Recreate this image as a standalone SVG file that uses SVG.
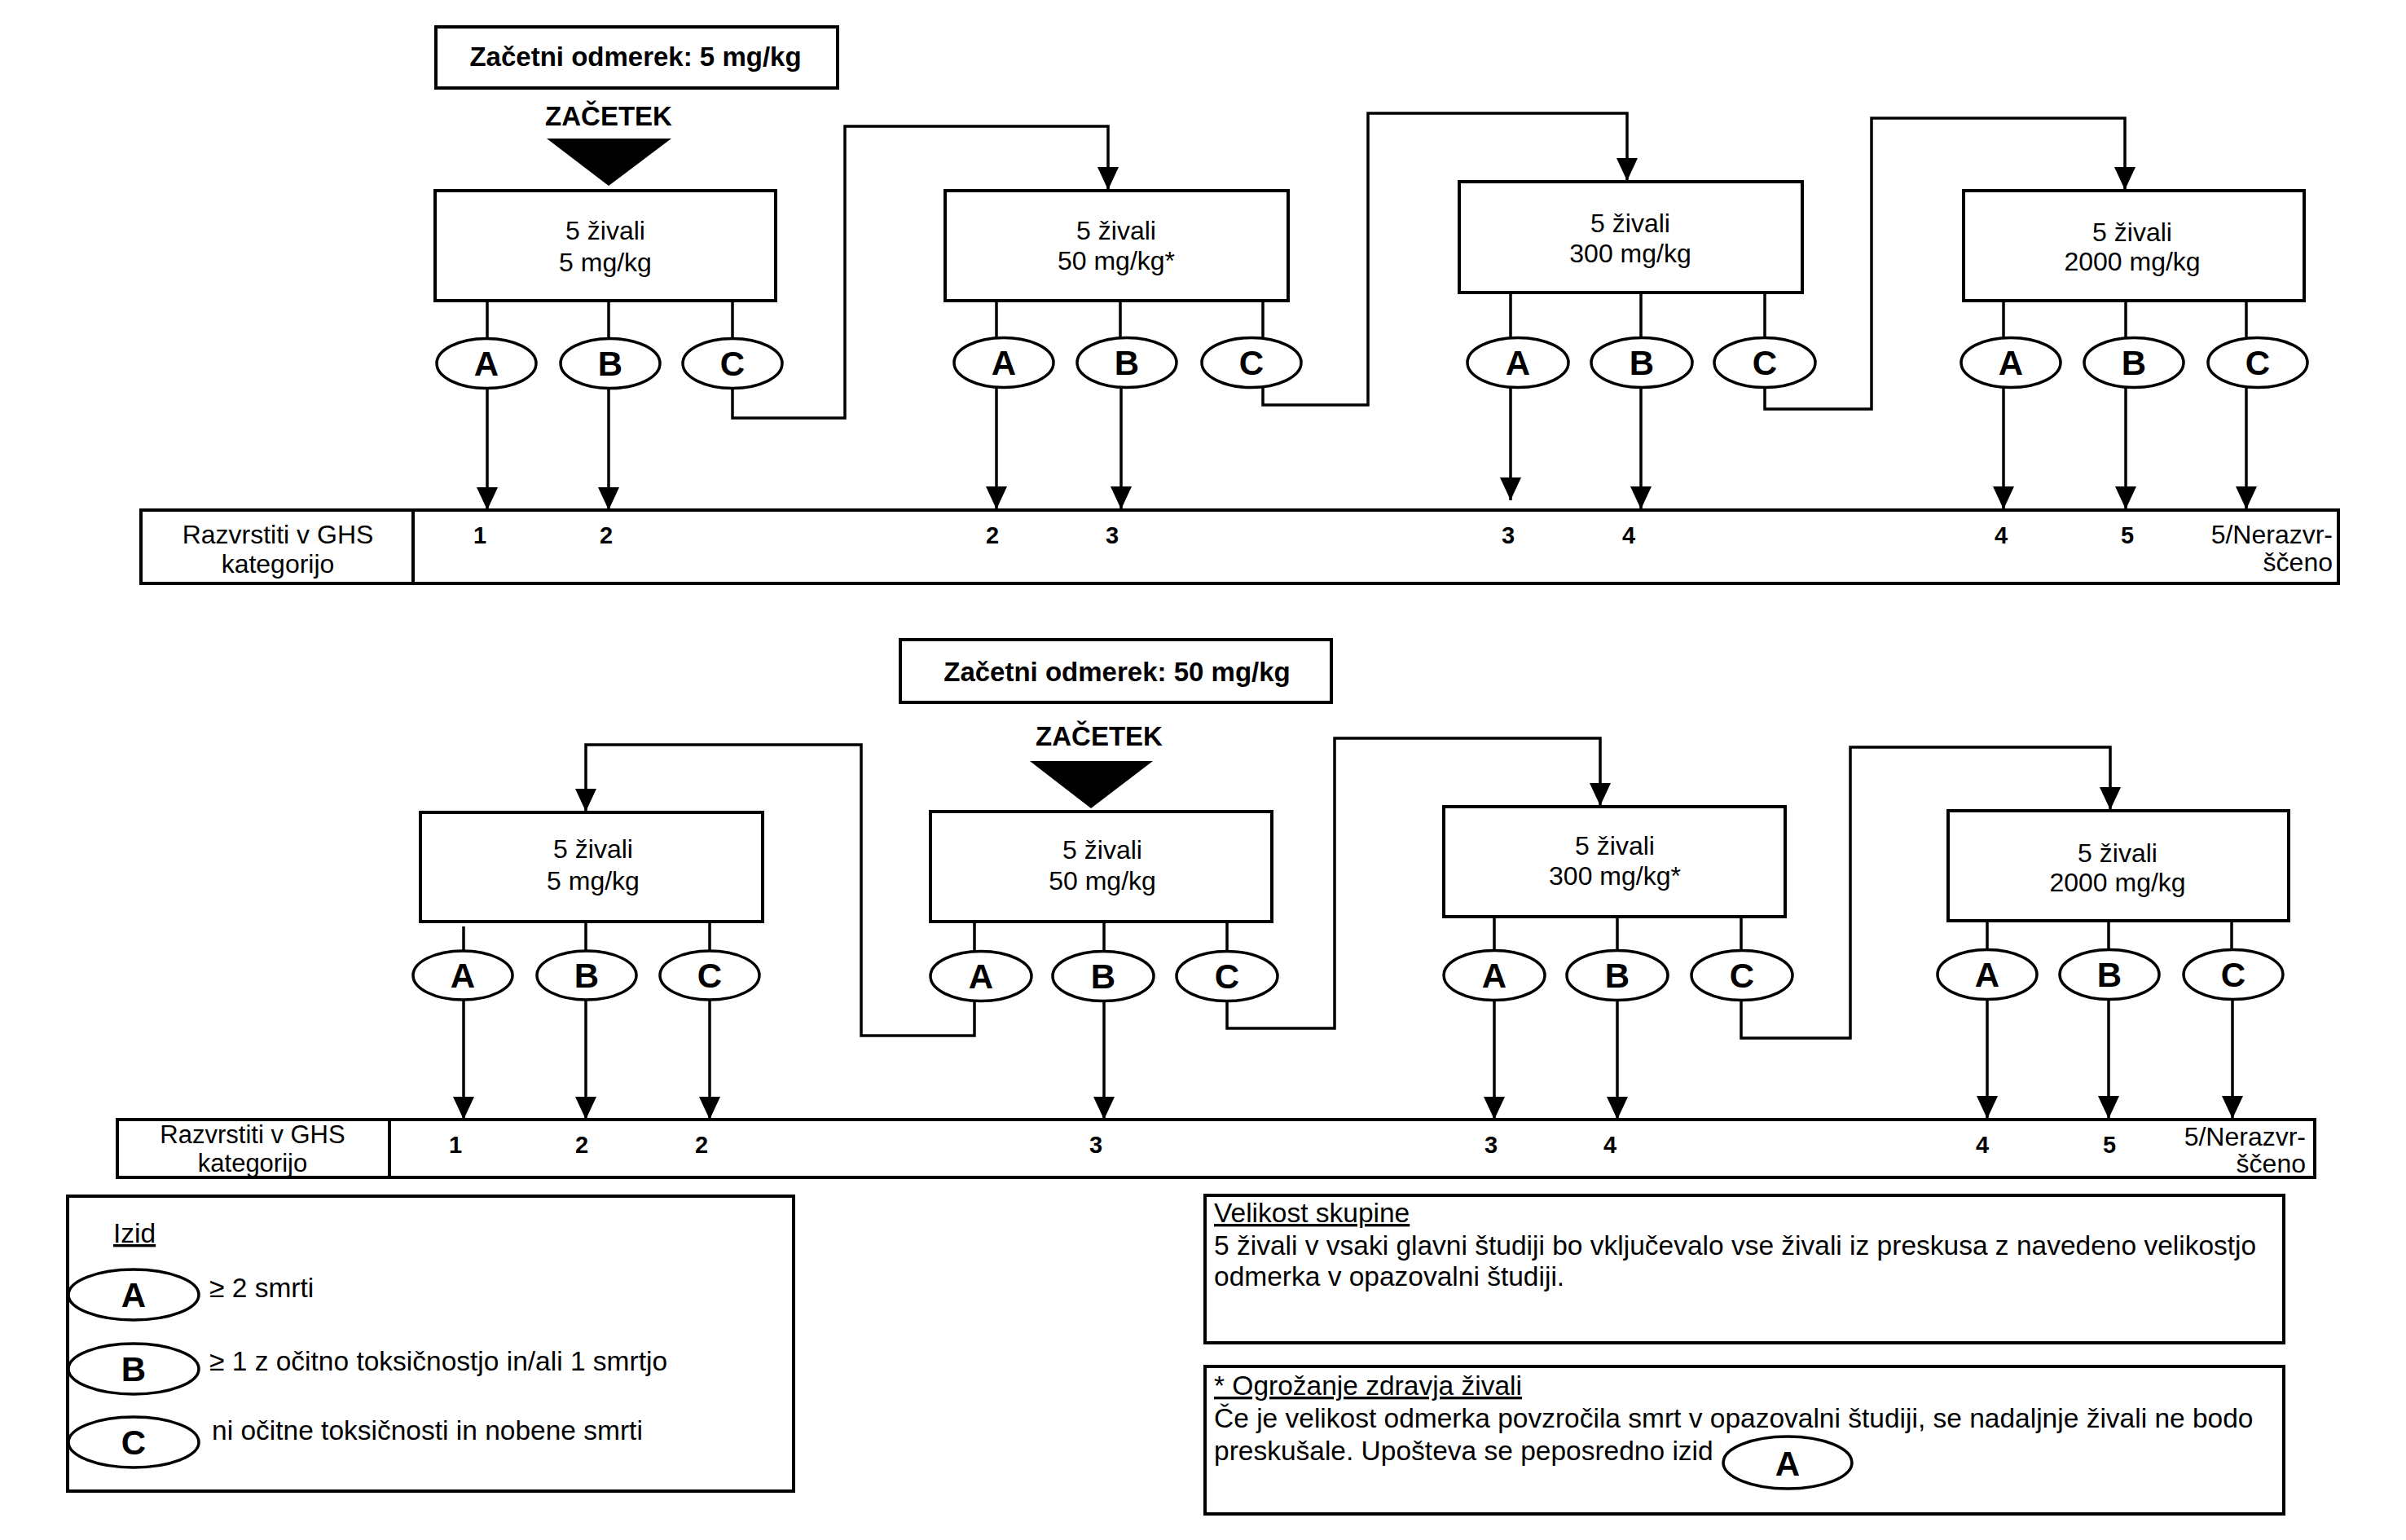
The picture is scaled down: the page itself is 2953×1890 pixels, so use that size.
<svg xmlns="http://www.w3.org/2000/svg" width="2953" height="1890" viewBox="0 0 2953 1890">
<defs>
<style>
.box{fill:#fff;stroke:#000;stroke-width:4}
.ell{fill:#fff;stroke:#000;stroke-width:3.5}
.ln{fill:none;stroke:#000;stroke-width:3.5}
text{font-family:"Liberation Sans",Arial,Helvetica,sans-serif;fill:#000}
.t{font-size:32px}
.n{font-size:33.5px}
.h{font-size:33px;font-weight:bold;text-anchor:middle}
.c{text-anchor:middle}
.e{text-anchor:end}
.lt{font-size:42px;font-weight:bold;text-anchor:middle}
.num{font-size:29px;font-weight:bold;text-anchor:middle}
.u{text-decoration:underline}
</style>
<marker id="ah" markerUnits="userSpaceOnUse" markerWidth="28" markerHeight="26" refX="28" refY="13" orient="auto">
<path d="M0,0 L28,13 L0,26 z" fill="#000"/>
</marker>
</defs>
<rect width="2953" height="1890" fill="#fff"/>

<!-- ===== TOP SECTION ===== -->
<g id="title1">
<rect class="box" x="535" y="33" width="493" height="75"/>
<text class="h" x="780" y="81">Začetni odmerek: 5 mg/kg</text>
</g>
<g id="start1">
<text class="h" x="747" y="154">ZAČETEK</text>
<polygon points="671,170 824,170 747,228" fill="#000"/>
</g>

<g id="t1">
<rect class="box" x="534" y="234" width="418" height="135"/>
<text class="t c" x="743" y="294">5 živali</text>
<text class="t c" x="743" y="333">5 mg/kg</text>
</g>
<g id="t1A"><ellipse class="ell" cx="597" cy="446" rx="61" ry="30.5"/><text class="lt" x="597" y="461">A</text></g>
<g id="t1B"><ellipse class="ell" cx="749" cy="446" rx="61" ry="30.5"/><text class="lt" x="749" y="461">B</text></g>
<g id="t1C"><ellipse class="ell" cx="899" cy="446" rx="61" ry="30.5"/><text class="lt" x="899" y="461">C</text></g>

<g id="t2">
<rect class="box" x="1160" y="234" width="421" height="135"/>
<text class="t c" x="1370" y="294">5 živali</text>
<text class="t c" x="1370" y="331">50 mg/kg*</text>
</g>
<g id="t2A"><ellipse class="ell" cx="1232" cy="445" rx="61" ry="30.5"/><text class="lt" x="1232" y="460">A</text></g>
<g id="t2B"><ellipse class="ell" cx="1383" cy="445" rx="61" ry="30.5"/><text class="lt" x="1383" y="460">B</text></g>
<g id="t2C"><ellipse class="ell" cx="1536" cy="445" rx="61" ry="30.5"/><text class="lt" x="1536" y="460">C</text></g>

<g id="t3">
<rect class="box" x="1791" y="223" width="421" height="136"/>
<text class="t c" x="2001" y="285">5 živali</text>
<text class="t c" x="2001" y="322">300 mg/kg</text>
</g>
<g id="t3A"><ellipse class="ell" cx="1863" cy="445" rx="62" ry="30.5"/><text class="lt" x="1863" y="460">A</text></g>
<g id="t3B"><ellipse class="ell" cx="2015" cy="445" rx="62" ry="30.5"/><text class="lt" x="2015" y="460">B</text></g>
<g id="t3C"><ellipse class="ell" cx="2166" cy="445" rx="62" ry="30.5"/><text class="lt" x="2166" y="460">C</text></g>

<g id="t4">
<rect class="box" x="2410" y="234" width="418" height="135"/>
<text class="t c" x="2617" y="296">5 živali</text>
<text class="t c" x="2617" y="332">2000 mg/kg</text>
</g>
<g id="t4A"><ellipse class="ell" cx="2468" cy="445" rx="61" ry="30.5"/><text class="lt" x="2468" y="460">A</text></g>
<g id="t4B"><ellipse class="ell" cx="2619" cy="445" rx="61" ry="30.5"/><text class="lt" x="2619" y="460">B</text></g>
<g id="t4C"><ellipse class="ell" cx="2771" cy="445" rx="61" ry="30.5"/><text class="lt" x="2771" y="460">C</text></g>

<g id="table1">
<rect class="box" x="173" y="626" width="2697" height="90"/>
<line class="ln" x1="507" y1="626" x2="507" y2="716" style="stroke-width:4"/>
<text class="t c" x="341" y="667">Razvrstiti v GHS</text>
<text class="t c" x="341" y="703">kategorijo</text>
<text class="num" x="589" y="667">1</text>
<text class="num" x="744" y="667">2</text>
<text class="num" x="1218" y="667">2</text>
<text class="num" x="1365" y="667">3</text>
<text class="num" x="1851" y="667">3</text>
<text class="num" x="1999" y="667">4</text>
<text class="num" x="2456" y="667">4</text>
<text class="num" x="2611" y="667">5</text>
<text class="t e" x="2863" y="667">5/Nerazvr-</text>
<text class="t e" x="2863" y="701">ščeno</text>
</g>

<!-- ===== BOTTOM SECTION ===== -->
<g id="title2">
<rect class="box" x="1105" y="785" width="529" height="77"/>
<text class="h" x="1371" y="836">Začetni odmerek: 50 mg/kg</text>
</g>
<g id="start2">
<text class="h" x="1349" y="915">ZAČETEK</text>
<polygon points="1264,934 1415,934 1339,992" fill="#000"/>
</g>

<g id="b1">
<rect class="box" x="516" y="997" width="420" height="134"/>
<text class="t c" x="728" y="1053">5 živali</text>
<text class="t c" x="728" y="1092">5 mg/kg</text>
</g>
<g id="b1A"><ellipse class="ell" cx="568" cy="1197" rx="61" ry="30"/><text class="lt" x="568" y="1212">A</text></g>
<g id="b1B"><ellipse class="ell" cx="720" cy="1197" rx="61" ry="30"/><text class="lt" x="720" y="1212">B</text></g>
<g id="b1C"><ellipse class="ell" cx="871" cy="1197" rx="61" ry="30"/><text class="lt" x="871" y="1212">C</text></g>

<g id="b2">
<rect class="box" x="1142" y="996" width="419" height="135"/>
<text class="t c" x="1353" y="1054">5 živali</text>
<text class="t c" x="1353" y="1092">50 mg/kg</text>
</g>
<g id="b2A"><ellipse class="ell" cx="1204" cy="1198" rx="62" ry="30.5"/><text class="lt" x="1204" y="1213">A</text></g>
<g id="b2B"><ellipse class="ell" cx="1354" cy="1198" rx="62" ry="30.5"/><text class="lt" x="1354" y="1213">B</text></g>
<g id="b2C"><ellipse class="ell" cx="1506" cy="1198" rx="62" ry="30.5"/><text class="lt" x="1506" y="1213">C</text></g>

<g id="b3">
<rect class="box" x="1772" y="990" width="419" height="135"/>
<text class="t c" x="1982" y="1049">5 živali</text>
<text class="t c" x="1982" y="1086">300 mg/kg*</text>
</g>
<g id="b3A"><ellipse class="ell" cx="1834" cy="1197" rx="62" ry="30.5"/><text class="lt" x="1834" y="1212">A</text></g>
<g id="b3B"><ellipse class="ell" cx="1985" cy="1197" rx="62" ry="30.5"/><text class="lt" x="1985" y="1212">B</text></g>
<g id="b3C"><ellipse class="ell" cx="2138" cy="1197" rx="62" ry="30.5"/><text class="lt" x="2138" y="1212">C</text></g>

<g id="b4">
<rect class="box" x="2391" y="995" width="418" height="135"/>
<text class="t c" x="2599" y="1058">5 živali</text>
<text class="t c" x="2599" y="1094">2000 mg/kg</text>
</g>
<g id="b4A"><ellipse class="ell" cx="2439" cy="1196" rx="61" ry="30.5"/><text class="lt" x="2439" y="1211">A</text></g>
<g id="b4B"><ellipse class="ell" cx="2589" cy="1196" rx="61" ry="30.5"/><text class="lt" x="2589" y="1211">B</text></g>
<g id="b4C"><ellipse class="ell" cx="2741" cy="1196" rx="61" ry="30.5"/><text class="lt" x="2741" y="1211">C</text></g>

<g id="table2">
<rect class="box" x="144" y="1374" width="2697" height="71"/>
<line class="ln" x1="478" y1="1374" x2="478" y2="1445" style="stroke-width:4"/>
<text class="c" style="font-size:31px" x="310" y="1403">Razvrstiti v GHS</text>
<text class="c" style="font-size:31px" x="310" y="1438">kategorijo</text>
<text class="num" x="559" y="1415">1</text>
<text class="num" x="714" y="1415">2</text>
<text class="num" x="861" y="1415">2</text>
<text class="num" x="1345" y="1415">3</text>
<text class="num" x="1830" y="1415">3</text>
<text class="num" x="1976" y="1415">4</text>
<text class="num" x="2433" y="1415">4</text>
<text class="num" x="2589" y="1415">5</text>
<text class="t e" x="2830" y="1406">5/Nerazvr-</text>
<text class="t e" x="2830" y="1439">ščeno</text>
</g>

<!-- ===== LEGEND ===== -->
<g id="legend">
<rect class="box" x="83" y="1468" width="891" height="362"/>
<text class="n u" x="139" y="1525">Izid</text>
<ellipse class="ell" cx="164" cy="1589" rx="80" ry="31"/><text class="lt" x="164" y="1604">A</text>
<text class="n" x="257" y="1592">≥ 2 smrti</text>
<ellipse class="ell" cx="164" cy="1680" rx="80" ry="31"/><text class="lt" x="164" y="1695">B</text>
<text class="n" x="257" y="1682">≥ 1 z očitno toksičnostjo in/ali 1 smrtjo</text>
<ellipse class="ell" cx="164" cy="1770" rx="80" ry="31"/><text class="lt" x="164" y="1785">C</text>
<text class="n" x="260" y="1767">ni očitne toksičnosti in nobene smrti</text>
</g>

<g id="note-size">
<rect class="box" x="1479" y="1467" width="1324" height="181"/>
<text class="n u" x="1490" y="1500">Velikost skupine</text>
<text class="n" x="1490" y="1540">5 živali v vsaki glavni študiji bo vključevalo vse živali iz preskusa z navedeno velikostjo</text>
<text class="n" x="1490" y="1578">odmerka v opazovalni študiji.</text>
</g>

<g id="note-welfare">
<rect class="box" x="1479" y="1677" width="1324" height="181"/>
<text class="n u" x="1490" y="1712">* Ogrožanje zdravja živali</text>
<text class="n" x="1490" y="1752">Če je velikost odmerka povzročila smrt v opazovalni študiji, se nadaljnje živali ne bodo</text>
<text class="n" x="1490" y="1792">preskušale. Upošteva se peposredno izid</text>
<ellipse class="ell" cx="2194" cy="1795" rx="79" ry="32"/><text class="lt" x="2194" y="1811">A</text>
</g>

<!-- ===== CONNECTORS ===== -->
<g id="connectors">
<path class="ln" d="M598,369 V415 M747,369 V415 M899,369 V415"/>
<path class="ln" d="M1223,369 V415 M1375,369 V415 M1550,369 V415"/>
<path class="ln" d="M1854,359 V415 M2014,359 V415 M2166,359 V415"/>
<path class="ln" d="M2459,369 V415 M2609,369 V415 M2757,369 V415"/>
<line class="ln" x1="598" y1="476" x2="598" y2="626" marker-end="url(#ah)"/>
<line class="ln" x1="747" y1="476" x2="747" y2="626" marker-end="url(#ah)"/>
<line class="ln" x1="1223" y1="476" x2="1223" y2="625" marker-end="url(#ah)"/>
<line class="ln" x1="1376" y1="476" x2="1376" y2="625" marker-end="url(#ah)"/>
<line class="ln" x1="1854" y1="476" x2="1854" y2="614" marker-end="url(#ah)"/>
<line class="ln" x1="2014" y1="476" x2="2014" y2="625" marker-end="url(#ah)"/>
<line class="ln" x1="2459" y1="476" x2="2459" y2="625" marker-end="url(#ah)"/>
<line class="ln" x1="2609" y1="476" x2="2609" y2="625" marker-end="url(#ah)"/>
<line class="ln" x1="2757" y1="476" x2="2757" y2="625" marker-end="url(#ah)"/>
<path class="ln" d="M899,476 V513 H1037 V155 H1360 V233" marker-end="url(#ah)"/>
<path class="ln" d="M1550,476 V497 H1679 V139 H1997 V222" marker-end="url(#ah)"/>
<path class="ln" d="M2166,476 V502 H2297 V145 H2608 V233" marker-end="url(#ah)"/>

<path class="ln" d="M569,1137 V1167 M719,1131 V1167 M871,1131 V1167"/>
<path class="ln" d="M1196,1131 V1168 M1355,1131 V1168 M1506,1131 V1168"/>
<path class="ln" d="M1834,1125 V1167 M1985,1125 V1167 M2137,1125 V1167"/>
<path class="ln" d="M2439,1130 V1166 M2588,1130 V1166 M2739,1130 V1166"/>
<line class="ln" x1="569" y1="1227" x2="569" y2="1374" marker-end="url(#ah)"/>
<line class="ln" x1="719" y1="1227" x2="719" y2="1374" marker-end="url(#ah)"/>
<line class="ln" x1="871" y1="1227" x2="871" y2="1374" marker-end="url(#ah)"/>
<line class="ln" x1="1355" y1="1229" x2="1355" y2="1374" marker-end="url(#ah)"/>
<line class="ln" x1="1834" y1="1228" x2="1834" y2="1374" marker-end="url(#ah)"/>
<line class="ln" x1="1985" y1="1228" x2="1985" y2="1374" marker-end="url(#ah)"/>
<line class="ln" x1="2439" y1="1227" x2="2439" y2="1373" marker-end="url(#ah)"/>
<line class="ln" x1="2588" y1="1227" x2="2588" y2="1373" marker-end="url(#ah)"/>
<line class="ln" x1="2740" y1="1227" x2="2740" y2="1373" marker-end="url(#ah)"/>
<path class="ln" d="M1196,1229 V1271 H1057 V914 H719 V996" marker-end="url(#ah)"/>
<path class="ln" d="M1506,1229 V1262 H1638 V906 H1964 V989" marker-end="url(#ah)"/>
<path class="ln" d="M2137,1228 V1274 H2271 V917 H2590 V994" marker-end="url(#ah)"/>
</g>
</svg>
